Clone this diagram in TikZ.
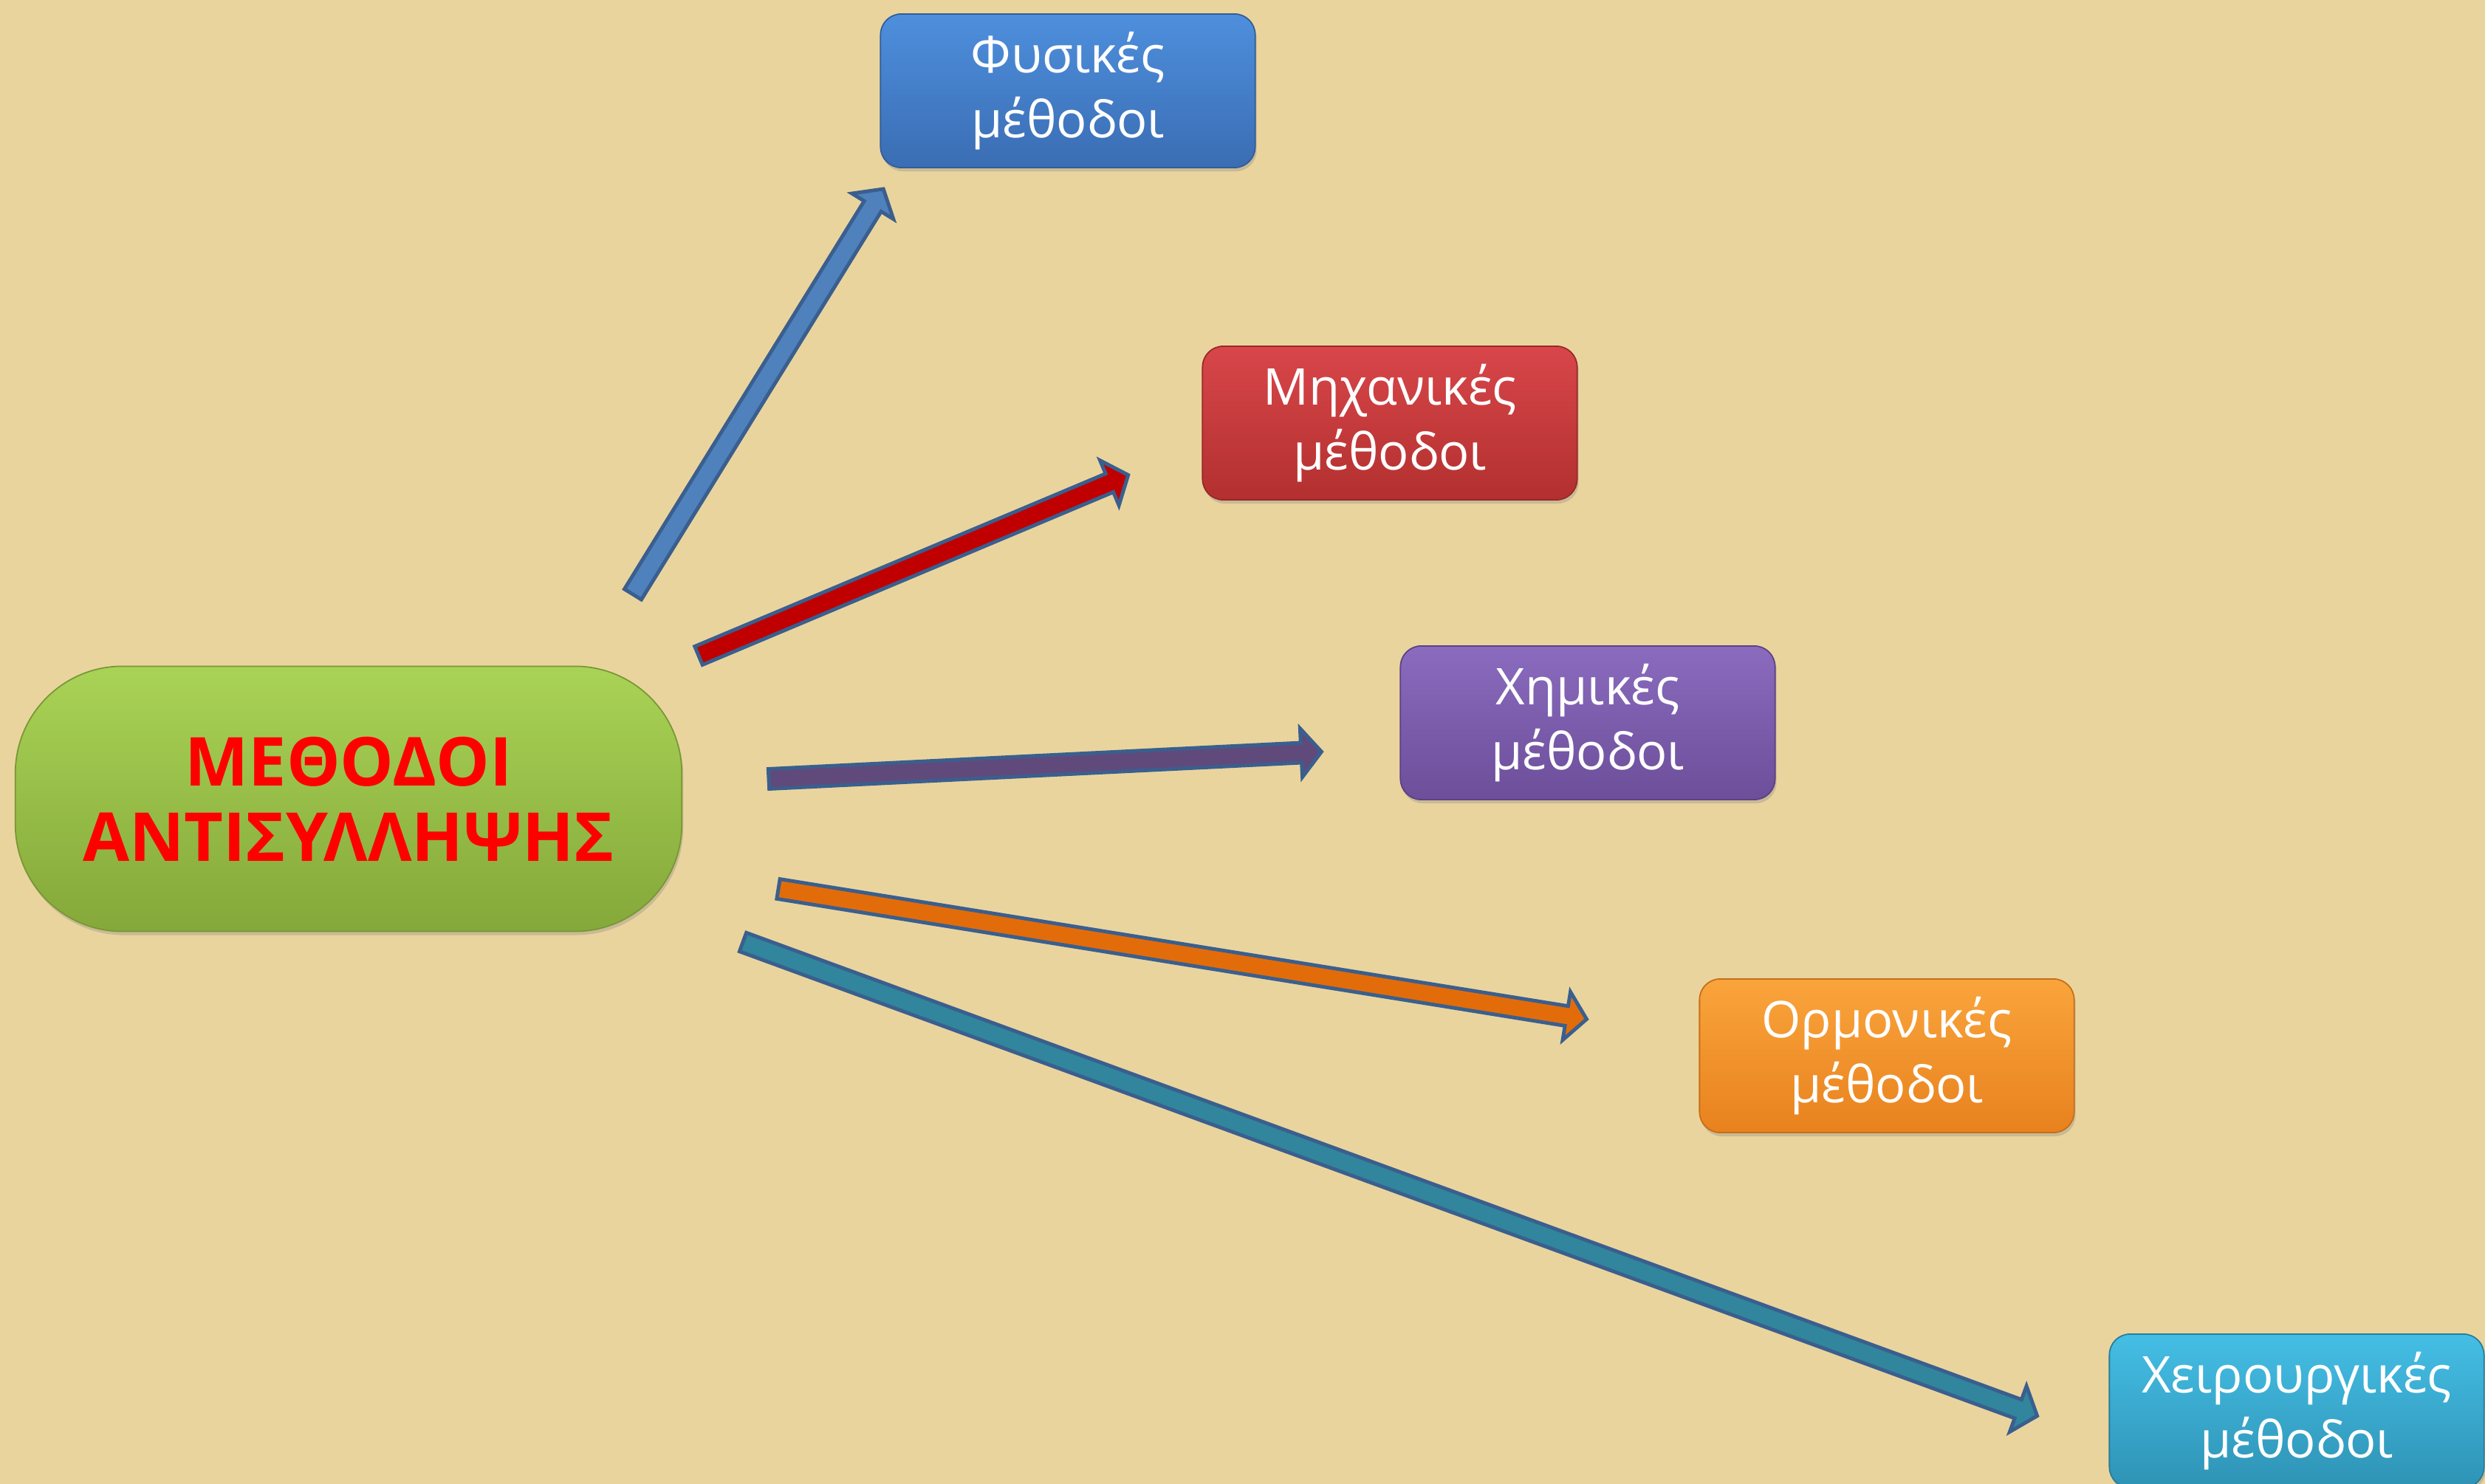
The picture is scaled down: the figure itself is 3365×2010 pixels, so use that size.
\documentclass[tikz,border=0pt]{standalone}
\usepackage{fontspec}
\newfontfamily\boxfont{Open Sans}
\usetikzlibrary{calc,shadows}

\definecolor{papyrus}{HTML}{EAD49E}
\definecolor{arrowline}{HTML}{3A5F8E}
\definecolor{fystop}{HTML}{4E8FDD}
\definecolor{fysbot}{HTML}{3A6DB3}
\definecolor{mechtop}{HTML}{D8464A}
\definecolor{mechbot}{HTML}{B3302F}
\definecolor{chemtop}{HTML}{8A6BBE}
\definecolor{chembot}{HTML}{6C4E9A}
\definecolor{hormtop}{HTML}{FAA43C}
\definecolor{hormbot}{HTML}{E8821E}
\definecolor{surgtop}{HTML}{45BEE5}
\definecolor{surgbot}{HTML}{2E93B5}
\definecolor{greentop}{HTML}{A9D356}
\definecolor{greenbot}{HTML}{85A83A}
\definecolor{arrblue}{HTML}{4F81BD}
\definecolor{arrred}{HTML}{C00000}
\definecolor{arrpurple}{HTML}{604A7B}
\definecolor{arrorange}{HTML}{E36C0A}
\definecolor{arrteal}{HTML}{31859C}

% block arrow from #1 to #2, filled with #3
\newcommand{\fatarrow}[3]{%
  \filldraw[fat, fill=#3]
    let \p1=($(#2)-(#1)$), \n1={atan2(\y1,\x1)}, \n2={veclen(\x1,\y1)} in
    ($(#1)+({\n1+90}:0.135cm)$)
    -- ($(#1)+(\n1:{\n2-0.31cm})+({\n1+90}:0.135cm)$)
    -- ($(#1)+(\n1:{\n2-0.31cm})+({\n1+90}:0.33cm)$)
    -- ($(#1)+(\n1:{\n2-0.035cm})$)
    -- ($(#1)+(\n1:{\n2-0.31cm})+({\n1-90}:0.33cm)$)
    -- ($(#1)+(\n1:{\n2-0.31cm})+({\n1-90}:0.135cm)$)
    -- ($(#1)+({\n1-90}:0.135cm)$) -- cycle;}

\begin{document}
\begin{tikzpicture}[x=0.01cm,y=-0.01cm]

		\tikzset{method/.style = {shape=rectangle, rounded corners=0.28cm, minimum width=5.07cm, minimum height=2.08cm,
			top color=#1top, bottom color=#1bot, draw=#1bot!85!black, line width=0.5pt, text=white, align=center,
			font=\boxfont\fontsize{19.5}{25}\selectfont,
			drop shadow={shadow xshift=0.02cm, shadow yshift=-0.05cm, opacity=0.3}}}
		\tikzset{fat/.style = {draw=arrowline, line width=1.4pt, line join=miter}}

		\useasboundingbox (0,0) rectangle (3365,2010);
		\fill[papyrus] (0,0) rectangle (3365,2010);

		\node[shape=rectangle, rounded corners=1.45cm, minimum width=9.02cm, minimum height=3.59cm,
			top color=greentop, bottom color=greenbot, draw=greenbot!90!black, line width=0.5pt,
			drop shadow={shadow xshift=0.02cm, shadow yshift=-0.05cm, opacity=0.3},
			text=red, align=center, font=\boxfont\bfseries\fontsize{26}{29}\selectfont]
			(main) at (472,1082) {ΜΕΘΟΔΟΙ\\ΑΝΤΙΣΥΛΛΗΨΗΣ};
		\node[method=fys] (fys) at (1446,123) {Φυσικές\\μέθοδοι};
		\node[method=mech] (mech) at (1882,573) {Μηχανικές\\μέθοδοι};
		\node[method=chem] (chem) at (2150,979) {Χημικές\\μέθοδοι};
		\node[method=horm] (horm) at (2555,1430) {Ορμονικές\\μέθοδοι};
		\node[method=surg] (surg) at (3110,1911) {Χειρουργικές\\μέθοδοι};

		\coordinate (fys-a) at (857,805);   \coordinate (fys-b) at (1198,253);
		\coordinate (mech-a) at (946,888);  \coordinate (mech-b) at (1531,642);
		\coordinate (chem-a) at (1041,1055); \coordinate (chem-b) at (1793,1018);
		\coordinate (horm-a) at (1054,1204); \coordinate (horm-b) at (2152,1381);
		\coordinate (surg-a) at (1006,1276); \coordinate (surg-b) at (2762,1919);
		%arrows
		\fatarrow{fys-a}{fys-b}{arrblue}
		\fatarrow{mech-a}{mech-b}{arrred}
		\fatarrow{chem-a}{chem-b}{arrpurple}
		\fatarrow{horm-a}{horm-b}{arrorange}
		\fatarrow{surg-a}{surg-b}{arrteal}
		\end{tikzpicture}
\end{document}
